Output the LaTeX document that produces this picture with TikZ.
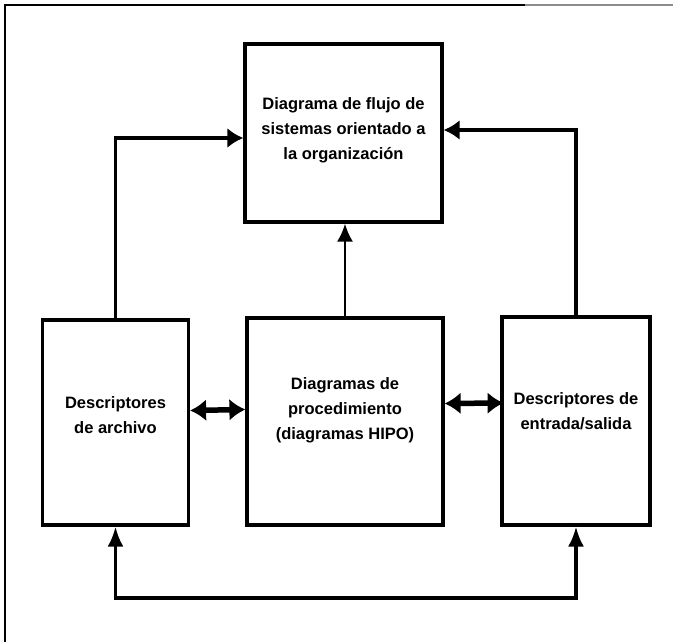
\documentclass[tikz,border=0pt]{standalone}
\usepackage{fontspec}
\setmainfont{Liberation Sans}
\usetikzlibrary{arrows.meta,calc}
\begin{document}
\begin{tikzpicture}[x=1pt,y=-1pt,
  box/.style={draw=black,line width=3.2pt,inner sep=0pt,rectangle},
  lbl/.style={align=center,inner sep=0pt,font=\bfseries\fontsize{16.5}{25}\selectfont},
  conn/.style={line width=3.4pt},
  hd/.style={-{Latex[length=16pt,width=20pt]}},
  dbl/.style={line width=5.5pt,{Latex[length=16pt,width=22pt]}-{Latex[length=16pt,width=22pt]}}
]
\useasboundingbox (0,0) rectangle (673,642);
% frame
\draw[line width=2.2pt] (5,642) -- (5,5) -- (525,5);
\draw[line width=1.5pt,black!45] (525,5) -- (673,5);
% boxes
\node[box,minimum width=197pt,minimum height=178pt] (top) at (343.5,133) {};
\node[box,minimum width=146pt,minimum height=205pt] (left) at (115.5,422.5) {};
\node[box,minimum width=196pt,minimum height=207pt] (mid) at (345,421.5) {};
\node[box,minimum width=148pt,minimum height=208pt] (right) at (576,421) {};
% labels
\node[lbl] (ttop) at (343.5,130) {Diagrama de flujo de\\sistemas orientado a\\la organización};
\node[lbl] (tleft) at (115.5,415) {Descriptores\\de archivo};
\node[lbl] (tmid) at (345,410) {Diagramas de\\procedimiento\\(diagramas HIPO)};
\node[lbl] (tright) at (576,411) {Descriptores de\\entrada/salida};
% connectors
\coordinate (lj) at ($(top.west)+(0,5)$);
\coordinate (rj) at ($(top.east)+(0,-3)$);
\draw[conn,hd] (left.north) |- (lj);
\draw[conn,hd] (right.north) |- (rj);
\draw[line width=2.4pt,-{Latex[length=18pt,width=16pt]}] (mid.north) -- (mid.north |- top.south);
\draw[dbl] ($(left.east)+(0,-12)$) -- ($(mid.west)+(0,-12)$);
\draw[dbl] ($(mid.east)+(0,-18)$) -- ($(right.east)+(-148,-18)$);
\coordinate (bot) at (0,598);
\draw[conn,{Latex[length=20pt,width=16pt]}-{Latex[length=20pt,width=16pt]}] (left.south) -- (left.south |- bot) -| (right.south);
\end{tikzpicture}
\end{document}
